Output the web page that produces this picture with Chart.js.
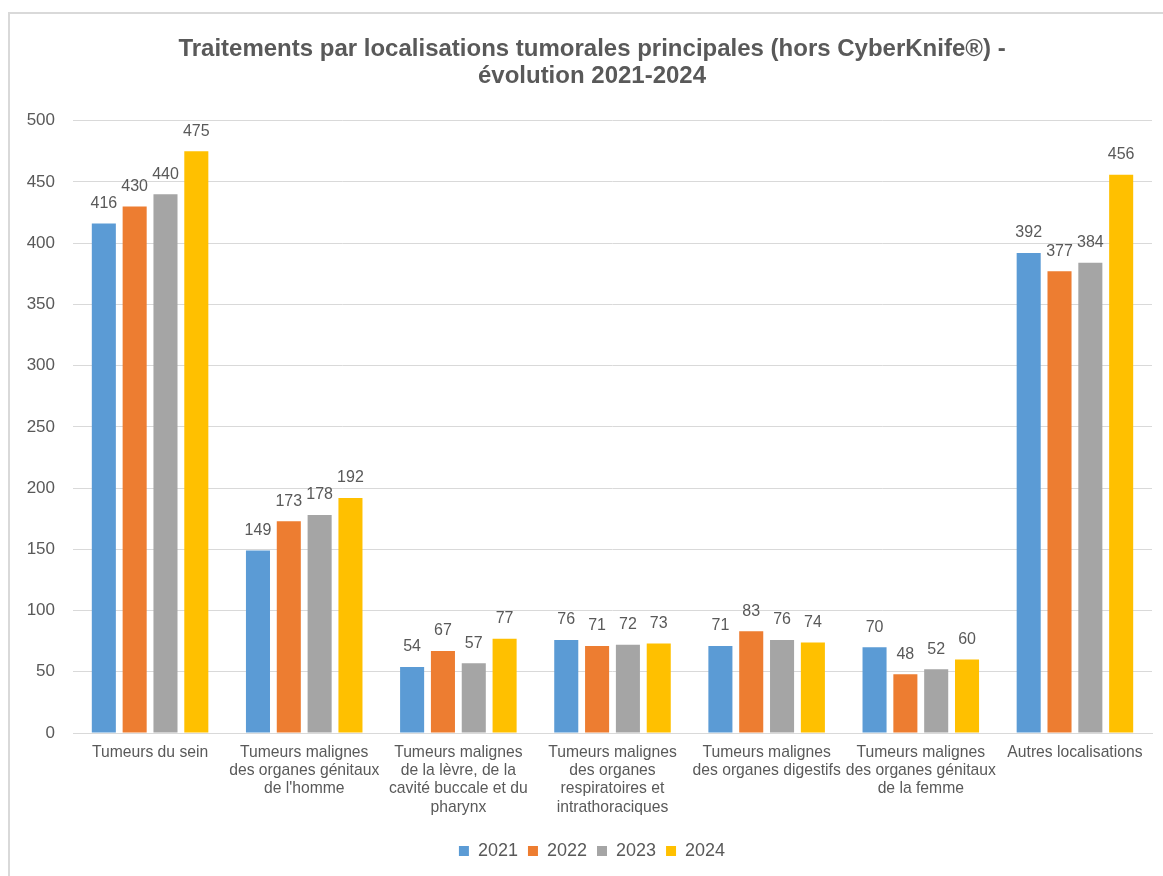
<!DOCTYPE html>
<html>
<head>
<meta charset="utf-8">
<script src="https://cdn.jsdelivr.net/npm/chart.js@4"></script>
<style>
    html, body { margin: 0; padding: 0; background: #fff; overflow: hidden; }
    #frame {
        position: absolute; left: 8px; top: 12px;
        width: 1160px; height: 870px;
        border-left: 2px solid #d9d9d9; border-top: 2px solid #d9d9d9;
    }
    #chart { display: block; }
</style>
</head>
<body>
<div id="frame"><canvas id="chart" width="1153" height="862"></canvas></div>
<script>
// categories (multi-line like the original labels)
let categories = [
    ['Tumeurs du sein'],
    ['Tumeurs malignes', 'des organes génitaux', "de l'homme"],
    ['Tumeurs malignes', 'de la lèvre, de la', 'cavité buccale et du', 'pharynx'],
    ['Tumeurs malignes', 'des organes', 'respiratoires et', 'intrathoraciques'],
    ['Tumeurs malignes', 'des organes digestifs'],
    ['Tumeurs malignes', 'des organes génitaux', 'de la femme'],
    ['Autres localisations']
]

let years = ['2021', '2022', '2023', '2024']
let values2021 = [416, 149, 54, 76, 71, 70, 392]
let values2022 = [430, 173, 67, 71, 83, 48, 377]
let values2023 = [440, 178, 57, 72, 76, 52, 384]
let values2024 = [475, 192, 77, 73, 74, 60, 456]
let yTicks = [0, 50, 100, 150, 200, 250, 300, 350, 400, 450, 500]

let colours = ['#5b9bd5', '#ed7d31', '#a5a5a5', '#ffc000']
let textColour = '#595959'
let fontFamily = '"Liberation Sans", Arial, sans-serif'

// values above each bar
let barLabels = {
    id: 'barLabels',
    afterDatasetsDraw(chart) {
        let ctx = chart.ctx
        ctx.save()
        ctx.font = `16px ${fontFamily}`
        ctx.fillStyle = textColour
        ctx.textAlign = 'center'
        ctx.textBaseline = 'middle'
        chart.data.datasets.forEach((ds, i) => {
            chart.getDatasetMeta(i).data.forEach((bar, j) => {
                ctx.fillText(ds.data[j], bar.x, bar.y - 20)
            })
        })
        ctx.restore()
    }
}

let series = [values2021, values2022, values2023, values2024]

new Chart(document.getElementById('chart'), {
    type: 'bar',
    data: {
        labels: categories,
        datasets: series.map((s, i) => ({
            label: years[i],
            data: s,
            backgroundColor: colours[i],
            categoryPercentage: 0.8,
            barPercentage: 0.78
        }))
    },
    options: {
        responsive: false,
        animation: false,
        layout: { padding: { left: 22, right: 11, top: 0, bottom: 6 } },
        plugins: {
            title: {
                display: true,
                text: ['Traitements par localisations tumorales principales (hors CyberKnife®) -', 'évolution 2021-2024'],
                color: textColour,
                font: { family: fontFamily, size: 24, weight: 'bold', lineHeight: 1.12 },
                padding: { top: 22, bottom: 31 }
            },
            legend: {
                position: 'bottom',
                labels: {
                    color: textColour,
                    font: { family: fontFamily, size: 18 },
                    boxWidth: 10,
                    boxHeight: 10,
                    padding: 10
                }
            },
            tooltip: { enabled: false }
        },
        scales: {
            x: {
                afterFit: axis => { axis.height = 99 },
                grid: { display: false, drawTicks: false },
                border: { color: '#d9d9d9', width: 1 },
                ticks: {
                    color: textColour,
                    font: { family: fontFamily, size: 15.7, lineHeight: 1.17 },
                    maxRotation: 0,
                    autoSkip: false,
                    padding: 10
                }
            },
            y: {
                min: 0,
                max: 500,
                afterBuildTicks: axis => { axis.ticks = yTicks.map(v => ({ value: v })) },
                afterFit: axis => {
                    axis.width = 41
                    // labels stick out past the narrow axis box, so don't clip them
                    axis._computeLabelArea = () => undefined
                },
                grid: { color: '#d9d9d9', drawTicks: false },
                border: { display: false },
                ticks: {
                    color: textColour,
                    font: { family: fontFamily, size: 17 },
                    padding: 18
                }
            }
        }
    },
    plugins: [barLabels]
})
</script>
</body>
</html>
